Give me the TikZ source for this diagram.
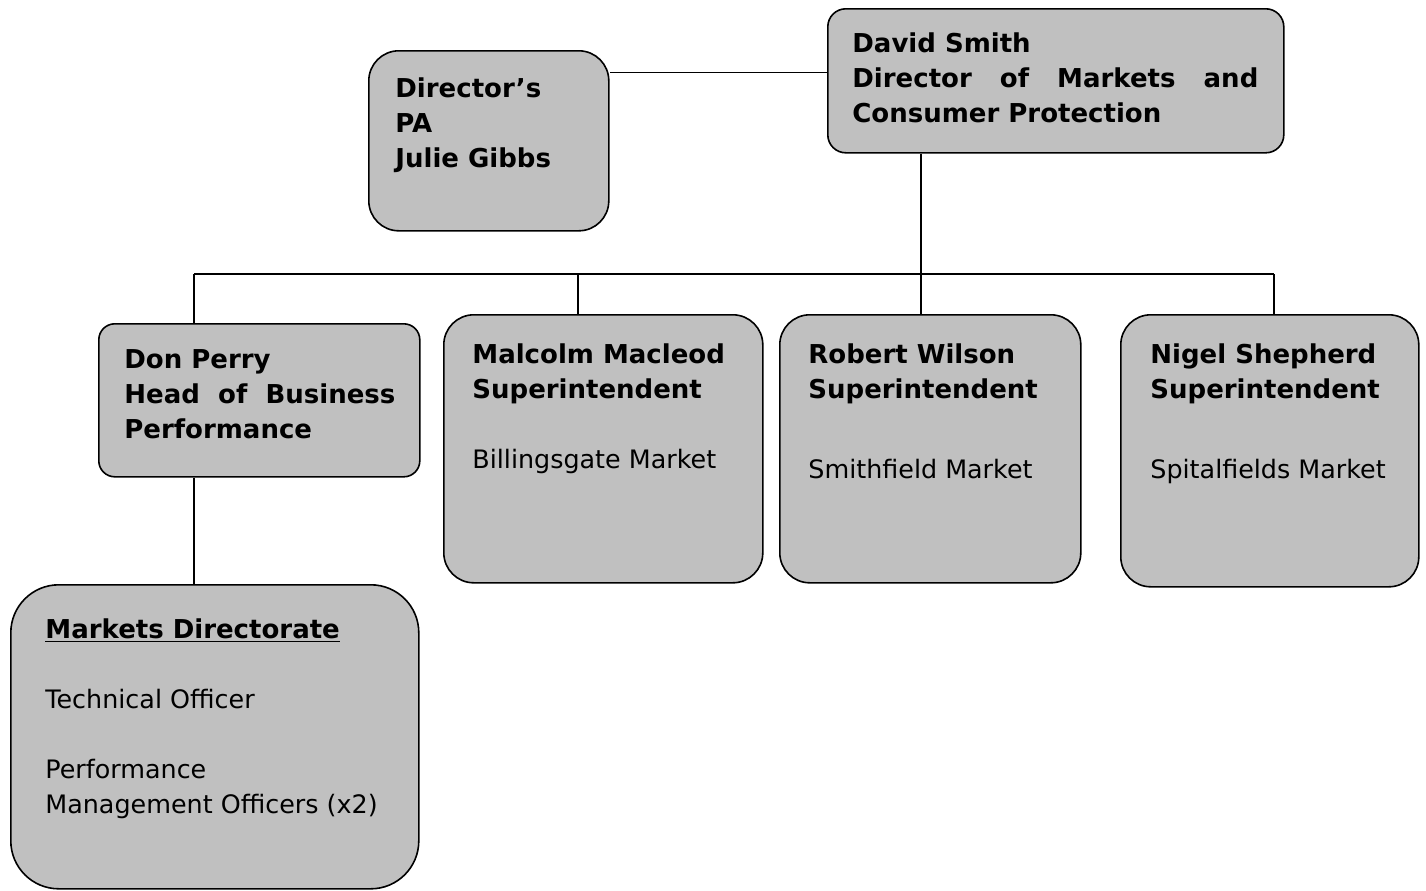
\documentclass[tikz,border=0pt]{standalone}
\usepackage{fontspec}
\setmainfont{DejaVu Sans}
\usetikzlibrary{positioning}
\definecolor{boxgray}{RGB}{192,192,192}

\newcommand{\bft}[1]{{\fontsize{13pt}{17.5pt}\selectfont\bfseries #1}}

\tikzset{
  post/.style={draw=black, fill=boxgray, line width=0.8pt, anchor=north west, inner sep=0pt},
  txt/.style={inner sep=0pt, align=left, font=\fontsize{12.7pt}{17.5pt}\selectfont},
  txtb/.style={txt, font=\fontsize{13pt}{17.5pt}\selectfont\bfseries},
  link/.style={line width=0.6pt}
}

\begin{document}
\begin{tikzpicture}[x=0.5pt, y=-0.5pt]
    \useasboundingbox (0,0) rectangle (1426,890);

    % Caixas
    \node[post, rounded corners=9pt, minimum width=228pt, minimum height=72pt] (david) at (827,8) {};
    \node[post, rounded corners=15pt, minimum width=120pt, minimum height=90pt] (pa) at (368,50) {};
    \node[post, rounded corners=8pt, minimum width=160.5pt, minimum height=76.5pt] (don) at (98,323) {};
    \node[post, rounded corners=15pt, minimum width=159.5pt, minimum height=134pt] (malcolm) at (443,314) {};
    \node[post, rounded corners=15pt, minimum width=150.5pt, minimum height=134pt] (robert) at (779,314) {};
    \node[post, rounded corners=15pt, minimum width=149pt, minimum height=136pt] (nigel) at (1120,314) {};
    \node[post, rounded corners=24pt, minimum width=204pt, minimum height=152pt] (markets) at (10,584) {};

    % Textos
    \node[txtb, text width=203pt, align=justify, below right=12pt and 12.5pt of david.north west] (david-txt)
        {David Smith\\Director of Markets and\linebreak Consumer Protection};
    \node[txtb, below right=13.5pt and 13.5pt of pa.north west] (pa-txt) {Director’s\\PA\\Julie Gibbs};
    \node[txtb, text width=135.5pt, align=justify, below right=13pt and 13pt of don.north west] (don-txt)
        {Don Perry\\Head of Business\linebreak Performance};
    \node[txt, below right=14.5pt and 14.5pt of malcolm.north west] (malcolm-txt)
        {\bft{Malcolm Macleod}\\\bft{Superintendent}\\[17.5pt]Billingsgate Market};
    \node[txt, below right=14.5pt and 14.5pt of robert.north west] (robert-txt)
        {\bft{Robert Wilson}\\\bft{Superintendent}\\[22.5pt]Smithfield Market};
    \node[txt, below right=14.5pt and 15pt of nigel.north west] (nigel-txt)
        {\bft{Nigel Shepherd}\\\bft{Superintendent}\\[22.5pt]Spitalfields Market};
    \node[txt, below right=17pt and 17.5pt of markets.north west] (markets-txt)
        {\bft{\underline{Markets Directorate}}\\[17.5pt]Technical Officer\\[17.5pt]Performance\\Management Officers (x2)};

    % Ligacoes
    \coordinate (hub) at (921,274);
    \coordinate (bar-l) at (194,274);
    \coordinate (bar-m) at (578,274);
    \coordinate (bar-r) at (1274,274);
    \draw[link] (david.178) -- (david.178 -| pa.east);
    \draw[link] (hub |- david.south) -- (hub |- robert.north);
    \draw[link] (bar-l) -- (bar-r);
    \foreach \c/\n in {bar-l/don, bar-m/malcolm, bar-r/nigel}
        \draw[link] (\c) -- (\c |- \n.north);
    \draw[link] (bar-l |- don.south) -- (bar-l |- markets.north);
\end{tikzpicture}
\end{document}
